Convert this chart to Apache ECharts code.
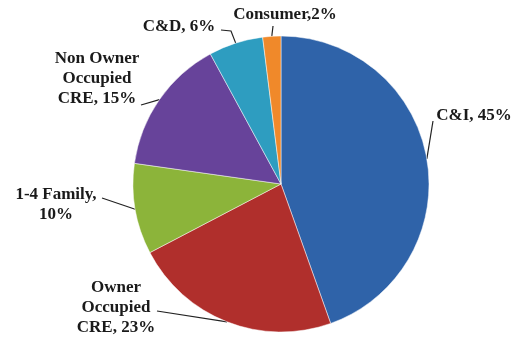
<!DOCTYPE html>
<html>
<head>
<meta charset="utf-8">
<script src="https://cdn.jsdelivr.net/npm/echarts@6/dist/echarts.min.js"></script>
<style>
html,body{margin:0;padding:0;background:#fff;}
#chart{width:517px;height:339px;}
</style>
</head>
<body>
<div id="chart"></div>
<script>
// ---- data ----
const categories = ['C&I', 'Owner Occupied CRE', '1-4 Family', 'Non Owner Occupied CRE', 'C&D', 'Consumer'];
const values = [45, 23, 10, 15, 6, 2];
const labelTexts = ['C&I, 45%', 'Owner\nOccupied\nCRE, 23%', '1-4 Family,\n10%', 'Non Owner\nOccupied\nCRE, 15%', 'C&D, 6%', 'Consumer,2%'];

// ---- styling / layout (not data) ----
const colors = ['#2f63a9', '#b02f2c', '#8cb43a', '#67439a', '#2e9dc0', '#f0892a'];
const labelCenters = [[474, 116], [116, 308], [56, 205], [97, 79], [179, 27], [285, 15]];
const lineEnds = [
  [[433, 121]],
  [[157, 311]],
  [[102, 198]],
  [[141, 105]],
  [[231, 31], [221, 30]],
  [[273, 26]]
];

const chart = echarts.init(document.getElementById('chart'), null, {renderer: 'canvas'});
chart.setOption({
  animation: false,
  backgroundColor: '#ffffff',
  series: [{
    type: 'pie',
    center: [281, 184],
    radius: 148,
    startAngle: 90,
    clockwise: true,
    data: categories.map((c, i) => ({
      name: c,
      value: values[i],
      itemStyle: {color: colors[i]}
    })),
    itemStyle: {borderColor: 'rgba(255,255,255,0.6)', borderWidth: 0.8},
    label: {
      show: true,
      position: 'outside',
      formatter: p => labelTexts[p.dataIndex],
      fontFamily: '"Liberation Serif", "Times New Roman", serif',
      fontWeight: 'bold',
      fontSize: 17,
      lineHeight: 20,
      color: '#1a1a1a',
      align: 'center',
      overflow: 'none',
      edgeDistance: 0,
      bleedMargin: 0
    },
    labelLine: {show: true, lineStyle: {color: '#222', width: 1.2}},
    labelLayout: function (params) {
      const i = params.dataIndex;
      const start = params.labelLinePoints ? params.labelLinePoints[0] : null;
      const out = {
        x: labelCenters[i][0],
        y: labelCenters[i][1],
        align: 'center',
        verticalAlign: 'middle',
        width: 200
      };
      if (start) out.labelLinePoints = [start].concat(lineEnds[i]);
      return out;
    }
  }]
});
</script>
</body>
</html>
